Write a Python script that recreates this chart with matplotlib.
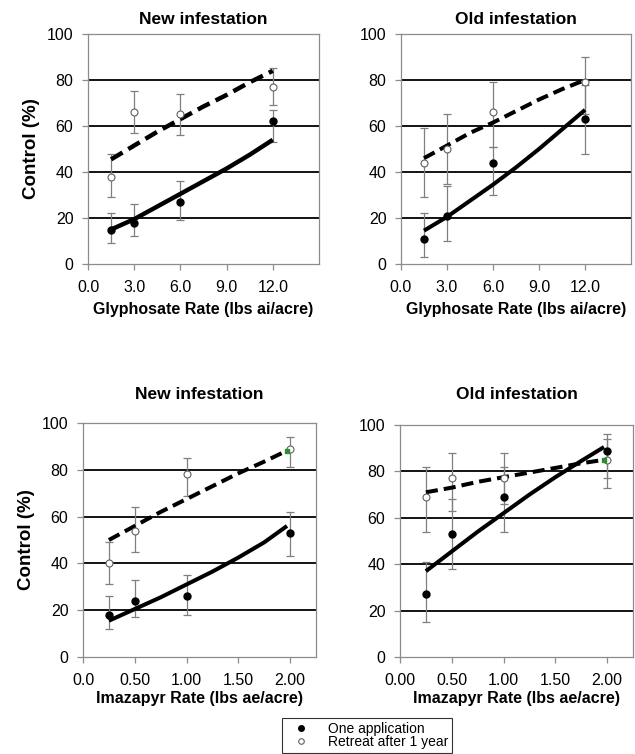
import numpy as np
from matplotlib import pyplot as plt

plt.rcParams['font.family'] = ['Liberation Sans', 'DejaVu Sans']

W, H = 635, 754

# glyphosate panels (lbs ai/acre)
gly_rate = [1.5, 3.0, 6.0, 12.0]
# imazapyr panels (lbs ae/acre)
ima_rate = [0.25, 0.5, 1.0, 2.0]

# control (%) with error bar ends: one application / retreat after 1 year
gly_new_one = [15, 18, 27, 62]
gly_new_one_lo = [9, 12, 19, 53]
gly_new_one_hi = [22, 26, 36, 67]
gly_new_re = [38, 66, 65, 77]
gly_new_re_lo = [29, 57, 56, 69]
gly_new_re_hi = [48, 75, 74, 85]

gly_old_one = [11, 21, 44, 63]
gly_old_one_lo = [3, 10, 30, 48]
gly_old_one_hi = [22, 34, 51, 78]
gly_old_re = [44, 50, 66, 79]
gly_old_re_lo = [29, 35, 51, 65]
gly_old_re_hi = [59, 65, 79, 90]

ima_new_one = [18, 24, 26, 53]
ima_new_one_lo = [12, 17, 18, 43]
ima_new_one_hi = [26, 33, 35, 62]
ima_new_re = [40, 54, 78, 89]
ima_new_re_lo = [31, 45, 69, 81]
ima_new_re_hi = [49, 64, 85, 94]

ima_old_one = [27, 53, 69, 89]
ima_old_one_lo = [15, 38, 54, 77]
ima_old_one_hi = [41, 68, 82, 96]
ima_old_re = [69, 77, 77, 85]
ima_old_re_lo = [54, 63, 66, 73]
ima_old_re_hi = [82, 88, 88, 94]

# fitted curves
gly_fit_x = [1.5, 3, 4.5, 6, 7.5, 9, 10.5, 12]
gly_new_fit_one = [15, 19.5, 25, 30.5, 36, 41.5, 47.5, 54]
gly_new_fit_re = [45.5, 51.5, 57.5, 63, 68.5, 73.5, 79, 84]
gly_old_fit_one = [14.5, 20.5, 27.5, 34.5, 42, 50, 58.5, 67]
gly_old_fit_re = [46, 51.5, 57, 61.5, 66.5, 71.5, 76, 80]

ima_fit_x = [0.25, 0.5, 0.75, 1.0, 1.25, 1.5, 1.75, 1.97]
ima_new_fit_one = [15.5, 20.5, 25.5, 31, 36.5, 42.5, 49, 56]
ima_new_fit_re = [50, 56, 62, 67.5, 73, 78.5, 83.5, 88.2]
ima_old_fit_one = [37, 45.5, 54, 62, 70, 77.5, 84.5, 90.5]
ima_old_fit_re = [71, 73, 75.5, 77.5, 79.5, 81.5, 83.5, 85]

gly_ticks = [0, 3, 6, 9, 12]
gly_ticklabels = ['0.0', '3.0', '6.0', '9.0', '12.0']
ima_ticks = [0, 0.5, 1.0, 1.5, 2.0]
ima_new_ticklabels = ['0.0', '0.50', '1.00', '1.50', '2.00']
ima_old_ticklabels = ['0.00', '0.50', '1.00', '1.50', '2.00']

fig = plt.figure(figsize=(W / 100, H / 100), dpi=100)


def make_axes(left, right, top, bottom):
    return fig.add_axes([left / W, 1 - bottom / H, (right - left) / W, (bottom - top) / H])


def panel(ax, x, one, one_lo, one_hi, re, re_lo, re_hi, fx, f_one, f_re,
          xlim, ticks, ticklabels, title, xlabel, ylabel, title_pad, xlabel_pad, lw_fit, end_mark):
    ax.set_xlim(*xlim)
    ax.set_ylim(0, 100)
    for g in [20, 40, 60, 80]:
        ax.axhline(g, color='black', lw=1.3, zorder=1)
    one = np.array(one)
    re = np.array(re)
    ax.errorbar(x, one, yerr=[one - np.array(one_lo), np.array(one_hi) - one],
                fmt='none', ecolor='#7f7f7f', elinewidth=0.9, capsize=3, capthick=0.9, zorder=2)
    ax.errorbar(x, re, yerr=[re - np.array(re_lo), np.array(re_hi) - re],
                fmt='none', ecolor='#7f7f7f', elinewidth=0.9, capsize=3, capthick=0.9, zorder=2)
    h1, = ax.plot(x, one, 'o', ms=5, mfc='black', mec='black', zorder=4, label='One application')
    h2, = ax.plot(x, re, 'o', ms=5, mfc='white', mec='#606060', mew=0.8, zorder=4,
                  label='Retreat after 1 year')
    ax.plot(fx, f_one, '-', color='black', lw=lw_fit, zorder=3, solid_capstyle='butt')
    ax.plot(fx, f_re, '--', color='black', lw=lw_fit, dashes=(3.0, 1.5), zorder=3)
    if end_mark:
        ax.plot(fx[-1], f_re[-1], 's', ms=2.5, color='#2e8b2e', zorder=5)
    for s in ax.spines.values():
        s.set_color('#8c8c8c')
        s.set_linewidth(0.9)
    ax.set_xticks(ticks)
    ax.set_xticklabels(ticklabels)
    ax.set_yticks([0, 20, 40, 60, 80, 100])
    ax.tick_params(direction='out', length=4.5, width=0.9, color='#8c8c8c', labelsize=11.5)
    ax.tick_params(axis='x', pad=7)
    ax.tick_params(axis='y', pad=6)
    ax.set_title(title, fontsize=12.5, fontweight='bold', pad=title_pad)
    ax.set_xlabel(xlabel, fontsize=11.5, fontweight='bold', labelpad=xlabel_pad)
    if ylabel:
        ax.set_ylabel(ylabel, fontsize=13.5, fontweight='bold', labelpad=5)
    return h1, h2


ax1 = make_axes(88, 319, 34, 264)
panel(ax1, gly_rate, gly_new_one, gly_new_one_lo, gly_new_one_hi,
      gly_new_re, gly_new_re_lo, gly_new_re_hi, gly_fit_x, gly_new_fit_one, gly_new_fit_re,
      (0, 15), gly_ticks, gly_ticklabels, 'New infestation', 'Glyphosate Rate (lbs ai/acre)',
      'Control (%)', 7, 5, 3.2, False)

ax2 = make_axes(401, 631, 34, 264)
panel(ax2, gly_rate, gly_old_one, gly_old_one_lo, gly_old_one_hi,
      gly_old_re, gly_old_re_lo, gly_old_re_hi, gly_fit_x, gly_old_fit_one, gly_old_fit_re,
      (0, 15), gly_ticks, gly_ticklabels, 'Old infestation', 'Glyphosate Rate (lbs ai/acre)',
      None, 7, 5, 2.9, False)

ax3 = make_axes(83, 316, 423, 657)
panel(ax3, ima_rate, ima_new_one, ima_new_one_lo, ima_new_one_hi,
      ima_new_re, ima_new_re_lo, ima_new_re_hi, ima_fit_x, ima_new_fit_one, ima_new_fit_re,
      (0, 2.25), ima_ticks, ima_new_ticklabels, 'New infestation', 'Imazapyr Rate (lbs ae/acre)',
      'Control (%)', 17, 2, 2.9, True)

ax4 = make_axes(400, 633, 425, 657)
h1, h2 = panel(ax4, ima_rate, ima_old_one, ima_old_one_lo, ima_old_one_hi,
               ima_old_re, ima_old_re_lo, ima_old_re_hi, ima_fit_x, ima_old_fit_one, ima_old_fit_re,
               (0, 2.25), ima_ticks, ima_old_ticklabels, 'Old infestation', 'Imazapyr Rate (lbs ae/acre)',
               None, 19, 2, 2.9, True)

leg = fig.legend([h1, h2], ['One application', 'Retreat after 1 year'],
                 loc='upper left', bbox_to_anchor=(282 / W, 1 - 718 / H),
                 fontsize=10, frameon=True, fancybox=False, edgecolor='black',
                 handlelength=2.2, handletextpad=0.8, labelspacing=-0.1,
                 borderpad=0.3, borderaxespad=0, markerscale=0.8)
leg.get_frame().set_linewidth(0.8)
for hnd in leg.legend_handles:
    hnd.set_markeredgecolor('black' if hnd.get_markerfacecolor() == 'black' else '#606060')

fig.savefig('out.png', dpi=100)
